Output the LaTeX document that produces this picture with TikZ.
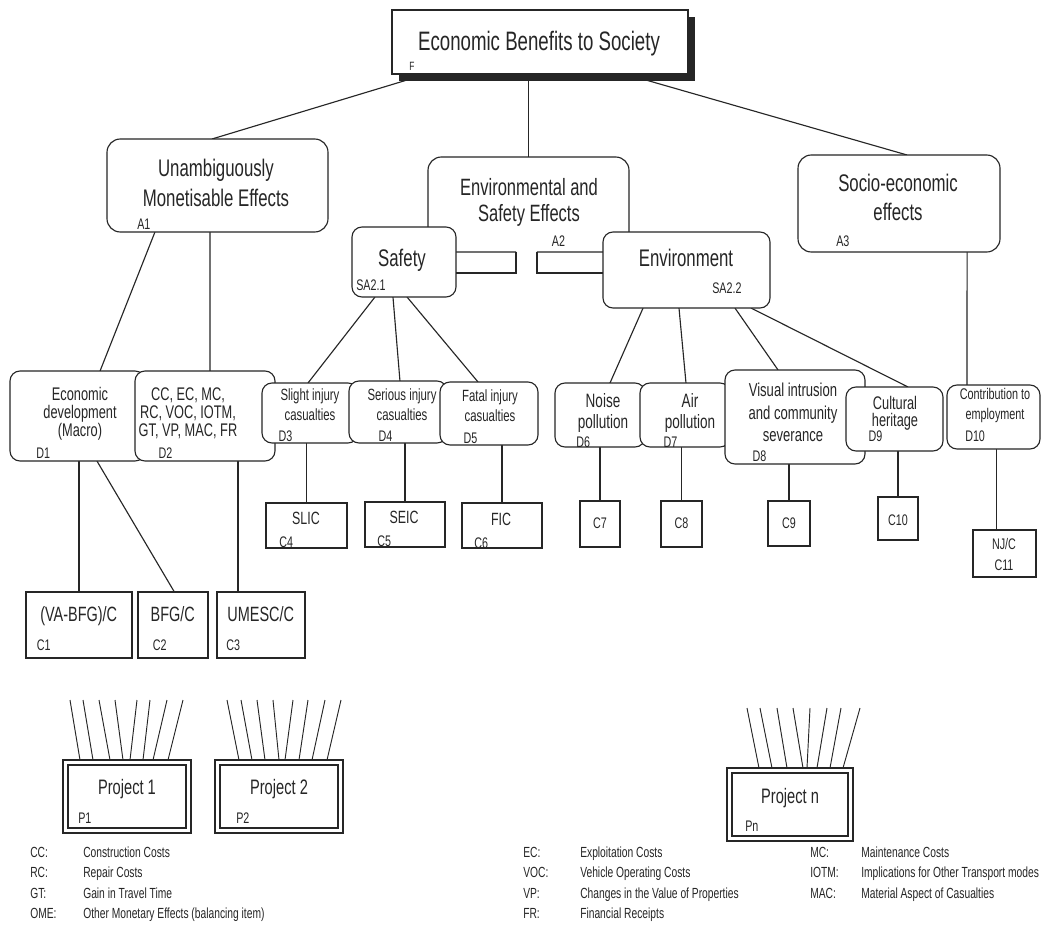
\documentclass[tikz,border=0pt]{standalone}
\usepackage{fontspec}
\setmainfont{Liberation Sans}[FakeStretch=0.7]
\usetikzlibrary{shadows,calc,fit}
\pgfdeclarelayer{back}
\pgfdeclarelayer{bg}
\pgfsetlayers{back,bg,main}
\newcommand{\fsz}[1]{\fontsize{#1pt}{#1pt}\selectfont}
\begin{document}
\begin{tikzpicture}[x=0.75pt,y=-0.75pt,
  ln/.style={line width=0.85pt, draw=black!85},
  rbox/.style={draw=black!85, line width=0.85pt, fill=white, rounded corners=7.5pt, inner sep=0pt, outer sep=0pt},
  abox/.style={rbox, rounded corners=10pt},
  sbox/.style={draw=black!85, line width=0.85pt, fill=white, inner sep=0pt, outer sep=0pt},
  tx/.style={anchor=base, inner sep=0pt, text=black!85},
  lab/.style={anchor=base west, inner sep=0pt, text=black!85, font=\fsz{11.5}},
  leg/.style={anchor=base west, inner sep=0pt, text=black!85, font=\fsz{11}},
]
\begin{pgfonlayer}{back}
\fill[white] (0,0) rectangle (1045,935);
\end{pgfonlayer}
\useasboundingbox (0,0) rectangle (1045,935);

% ---------- top box
\node[sbox, fit={(392,10) (688,74)}, general shadow={fill=black!85, shadow xshift=5pt, shadow yshift=-5.5pt}] (F) {};
\node[tx, font=\fsz{20}] (tF) at (539,50) {Economic Benefits to Society};
\node[lab, font=\fsz{9}] (lF) at (409,70) {F};

% ---------- A level
\node[abox, fit={(107,139) (328,232)}] (A1) {};
\node[draw=none, inner sep=0pt, outer sep=0pt, fit={(428,157) (629,252)}] (A2) {};
\draw[ln, rounded corners=10pt] ($(A2.south west)!0.438!(A2.south east)$) -- (A2.south west) -- (A2.north west) -- (A2.north east) -- (A2.south east) -- ($(A2.south west)!0.542!(A2.south east)$);
\node[abox, fit={(798,155) (1000,252)}] (A3) {};
\node[rbox, fit={(352,227) (456,297)}] (Saf) {};
\node[rbox, fit={(603,232) (770,308)}] (Env) {};
\draw[ln] ($(A2.south west)!0.438!(A2.south east)$) -- ++(0,21) -- ++(-60,0);
\draw[ln] ($(A2.south west)!0.542!(A2.south east)$) -- ++(0,21) -- ++(66,0);

\node[tx, font=\fsz{18}] (tA1a) at (216,176.7) {Unambiguously};
\node[tx, font=\fsz{18}] (tA1b) at (216,206) {Monetisable Effects};
\node[lab] (lA1) at (137,229) {A1};
\node[tx, font=\fsz{17.7}] (tA2a) at (529,195) {Environmental and};
\node[tx, font=\fsz{17.7}] (tA2b) at (529,221.7) {Safety Effects};
\node[lab] (lA2) at (551.7,246.7) {A2};
\node[tx, font=\fsz{18}] (tA3a) at (898,191.7) {Socio-economic};
\node[tx, font=\fsz{18}] (tA3b) at (898,220.7) {effects};
\node[lab] (lA3) at (836,246) {A3};
\node[tx, font=\fsz{18}] (tSaf) at (402,266.7) {Safety};
\node[lab] (lSaf) at (356,290.7) {SA2.1};
\node[tx, font=\fsz{18}] (tEnv) at (686,266) {Environment};
\node[lab] (lEnv) at (712,293.3) {SA2.2};

% ---------- D level
\node[rbox, fit={(10,371) (145,461)}] (D1) {};
\node[rbox, fit={(135,371) (275,461)}] (D2) {};
\node[rbox, fit={(262,383) (358,443)}] (D3) {};
\node[rbox, fit={(349,381) (447,443)}] (D4) {};
\node[rbox, fit={(440,382) (538,445)}] (D5) {};
\node[rbox, fit={(555,383) (645,447)}] (D6) {};
\node[rbox, fit={(640,383) (730,447)}] (D7) {};
\node[rbox, fit={(725,370) (865,464)}] (D8) {};
\node[rbox, fit={(846,387) (943,451)}] (D9) {};
\node[rbox, fit={(947,385) (1040,449)}] (D10) {};

\node[tx, font=\fsz{13.7}] (tD1a) at (80,400) {Economic};
\node[tx, font=\fsz{13.7}] (tD1b) at (80,418.3) {development};
\node[tx, font=\fsz{13.7}] (tD1c) at (80,436) {(Macro)};
\node[lab] (lD1) at (36,458.3) {D1};
\node[tx, font=\fsz{13.7}] (tD2a) at (188,400) {CC, EC, MC,};
\node[tx, font=\fsz{13.7}] (tD2b) at (188,418.3) {RC, VOC, IOTM,};
\node[tx, font=\fsz{13.7}] (tD2c) at (188,436) {GT, VP, MAC, FR};
\node[lab] (lD2) at (158.3,458.3) {D2};
\node[tx, font=\fsz{12.2}] (tD3a) at (310,400.7) {Slight injury};
\node[tx, font=\fsz{12.2}] (tD3b) at (310,420) {casualties};
\node[lab] (lD3) at (278.3,441.7) {D3};
\node[tx, font=\fsz{12.2}] (tD4a) at (402,400.7) {Serious injury};
\node[tx, font=\fsz{12.2}] (tD4b) at (402,420) {casualties};
\node[lab] (lD4) at (378.3,441.7) {D4};
\node[tx, font=\fsz{12.2}] (tD5a) at (490,401.7) {Fatal injury};
\node[tx, font=\fsz{12.2}] (tD5b) at (490,421.7) {casualties};
\node[lab] (lD5) at (463.3,443.3) {D5};
\node[tx, font=\fsz{14.5}] (tD6a) at (603,407) {Noise};
\node[tx, font=\fsz{14.5}] (tD6b) at (603,428) {pollution};
\node[lab] (lD6) at (576,447.3) {D6};
\node[tx, font=\fsz{14.5}] (tD7a) at (690,407) {Air};
\node[tx, font=\fsz{14.5}] (tD7b) at (690,428) {pollution};
\node[lab] (lD7) at (663.3,447) {D7};
\node[tx, font=\fsz{14}] (tD8a) at (793,396.7) {Visual intrusion};
\node[tx, font=\fsz{14}] (tD8b) at (793,419.3) {and community};
\node[tx, font=\fsz{14}] (tD8c) at (793,441) {severance};
\node[lab] (lD8) at (752.3,461.7) {D8};
\node[tx, font=\fsz{13.7}] (tD9a) at (895,409.3) {Cultural};
\node[tx, font=\fsz{13.7}] (tD9b) at (895,426.7) {heritage};
\node[lab] (lD9) at (868.3,441.7) {D9};
\node[tx, font=\fsz{11.6}] (tD10a) at (995,399.3) {Contribution to};
\node[tx, font=\fsz{11.6}] (tD10b) at (995,419.3) {employment};
\node[lab] (lD10) at (965,441.7) {D10};

% ---------- C level
\node[sbox, fit={(26,592) (132,658)}] (C1) {};
\node[sbox, fit={(138,592) (208,658)}] (C2) {};
\node[sbox, fit={(217,592) (305,658)}] (C3) {};
\node[sbox, fit={(266,503) (347,548)}] (C4) {};
\node[sbox, fit={(365,502) (445,547)}] (C5) {};
\node[sbox, fit={(462,503) (542,548)}] (C6) {};
\node[sbox, fit={(580,501) (620,547)}] (C7) {};
\node[sbox, fit={(661,501) (702,547)}] (C8) {};
\node[sbox, fit={(768,501) (810,546)}] (C9) {};
\node[sbox, fit={(878,497) (918,540)}] (C10) {};
\node[sbox, fit={(973,530) (1036,577)}] (C11) {};

\node[tx, font=\fsz{15.5}] (tC1) at (78.7,621.7) {(VA-BFG)/C};
\node[lab] (lC1) at (36.7,650) {C1};
\node[tx, font=\fsz{15.5}] (tC2) at (172.8,621.7) {BFG/C};
\node[lab] (lC2) at (152.7,650) {C2};
\node[tx, font=\fsz{15.5}] (tC3) at (260.8,621.7) {UMESC/C};
\node[lab] (lC3) at (226,650) {C3};
\node[tx, font=\fsz{13.3}] (tC4) at (306,524.8) {SLIC};
\node[lab] (lC4) at (279,547.2) {C4};
\node[tx, font=\fsz{13.3}] (tC5) at (404,523.8) {SEIC};
\node[lab] (lC5) at (377,546) {C5};
\node[tx, font=\fsz{13.3}] (tC6) at (501,525.5) {FIC};
\node[lab] (lC6) at (474,548) {C6};
\node[tx, font=\fsz{11.5}] (tC7) at (600,528) {C7};
\node[tx, font=\fsz{11.5}] (tC8) at (681.5,528) {C8};
\node[tx, font=\fsz{11.5}] (tC9) at (789,528) {C9};
\node[tx, font=\fsz{11.5}] (tC10) at (898,525) {C10};
\node[tx, font=\fsz{11.5}] (tC11a) at (1004,549.3) {NJ/C};
\node[tx, font=\fsz{11.5}] (tC11b) at (1004,570) {C11};

% ---------- projects
\node[sbox, fit={(63,760) (191,833)}] (P1) {};
\node[sbox, fit={(68,765) (186,828)}] (P1i) {};
\node[sbox, fit={(215,760) (343,833)}] (P2) {};
\node[sbox, fit={(220,765) (338,828)}] (P2i) {};
\node[sbox, fit={(727,768) (853,841)}] (Pn) {};
\node[sbox, fit={(732,773) (848,836)}] (Pni) {};
\node[tx, font=\fsz{15.7}] (tP1) at (127,794) {Project 1};
\node[lab] (lP1) at (78,823) {P1};
\node[tx, font=\fsz{15.7}] (tP2) at (279,794) {Project 2};
\node[lab] (lP2) at (236,823) {P2};
\node[tx, font=\fsz{15.7}] (tPn) at (790,803) {Project n};
\node[lab] (lPn) at (745,831) {Pn};

\foreach \t/\b in {70/80,83/93,99/110,115/123,137/130,150/143,167/153,183/168}
  \draw[ln, line width=0.7pt] (\b,760) -- (\t,700);
\foreach \t/\b in {227/239,241/252,257/265,273/279,293/285,308/299,325/312,341/327}
  \draw[ln, line width=0.7pt] (\b,760) -- (\t,700);
\foreach \t/\b in {747/759,760/772,777/787,793/803,810/807,827/817,841/830,860/843}
  \draw[ln, line width=0.7pt] (\b,768) -- (\t,708);

% ---------- legend
\node[leg] (g1) at (30,857.5) {CC:};
\node[leg] (g1d) at (83,857.5) {Construction Costs};
\node[leg] (g2) at (30,877.5) {RC:};
\node[leg] (g2d) at (83,877.5) {Repair Costs};
\node[leg] (g3) at (30,898) {GT:};
\node[leg] (g3d) at (83,898) {Gain in Travel Time};
\node[leg] (g4) at (30,918.5) {OME:};
\node[leg] (g4d) at (83,918.5) {Other Monetary Effects (balancing item)};
\node[leg] (g5) at (523,857.5) {EC:};
\node[leg] (g5d) at (580,857.5) {Exploitation Costs};
\node[leg] (g6) at (523,877.5) {VOC:};
\node[leg] (g6d) at (580,877.5) {Vehicle Operating Costs};
\node[leg] (g7) at (523,898) {VP:};
\node[leg] (g7d) at (580,898) {Changes in the Value of Properties};
\node[leg] (g8) at (523,918.5) {FR:};
\node[leg] (g8d) at (580,918.5) {Financial Receipts};
\node[leg] (g9) at (810,857.5) {MC:};
\node[leg] (g9d) at (861,857.5) {Maintenance Costs};
\node[leg] (g10) at (810,877.5) {IOTM:};
\node[leg] (g10d) at (861,877.5) {Implications for Other Transport modes};
\node[leg] (g11) at (810,898) {MAC:};
\node[leg] (g11d) at (861,898) {Material Aspect of Casualties};

% ---------- connectors
\begin{pgfonlayer}{bg}
\draw[ln] ($(F.south west)!0.118!(F.south east)$) -- ($(A1.north west)!0.475!(A1.north east)$);
\draw[ln] (A2.north |- F.south) -- (A2.north);
\draw[ln] ($(F.south west)!0.787!(F.south east)$) -- ($(A3.north west)!0.54!(A3.north east)$);
\draw[ln] ($(A1.south west)!0.217!(A1.south east)$) -- ($(D1.north west)!0.667!(D1.north east)$);
\draw[ln] ($(A1.south west)!0.466!(A1.south east)$) -- ($(D2.north west)!0.536!(D2.north east)$);
\draw[ln] ($(A3.south west)!0.837!(A3.south east)$) -- ($(D10.north west)!0.215!(D10.north east)$);
\draw[ln] ($(Saf.south west)!0.221!(Saf.south east)$) -- ($(D3.north west)!0.479!(D3.north east)$);
\draw[ln] ($(Saf.south west)!0.394!(Saf.south east)$) -- ($(D4.north west)!0.52!(D4.north east)$);
\draw[ln] ($(Saf.south west)!0.529!(Saf.south east)$) -- ($(D5.north west)!0.388!(D5.north east)$);
\draw[ln] ($(Env.south west)!0.24!(Env.south east)$) -- ($(D6.north west)!0.611!(D6.north east)$);
\draw[ln] ($(Env.south west)!0.455!(Env.south east)$) -- ($(D7.north west)!0.511!(D7.north east)$);
\draw[ln] ($(Env.south west)!0.79!(Env.south east)$) -- ($(D8.north west)!0.379!(D8.north east)$);
\draw[ln] ($(Env.south west)!0.886!(Env.south east)$) -- ($(D9.north west)!0.639!(D9.north east)$);
\draw[ln] (C1.north) -- (C1.north |- D1.south);
\draw[ln] ($(D1.south west)!0.644!(D1.south east)$) -- ($(C2.north west)!0.52!(C2.north east)$);
\draw[ln] ($(C3.north west)!0.239!(C3.north east)$) coordinate (c3t) -- (c3t |- D2.south);
\draw[ln] (C4.north) -- (C4.north |- D3.south);
\draw[ln] (C5.north) -- (C5.north |- D4.south);
\draw[ln] (C6.north) -- (C6.north |- D5.south);
\draw[ln] (C7.north) -- (C7.north |- D6.south);
\draw[ln] (C8.north) -- (C8.north |- D7.south);
\draw[ln] (C9.north) -- (C9.north |- D8.south);
\draw[ln] (C10.north) -- (C10.north |- D9.south);
\draw[ln] ($(C11.north west)!0.378!(C11.north east)$) coordinate (c11t) -- (c11t |- D10.south);
\end{pgfonlayer}
\end{tikzpicture}
\end{document}
